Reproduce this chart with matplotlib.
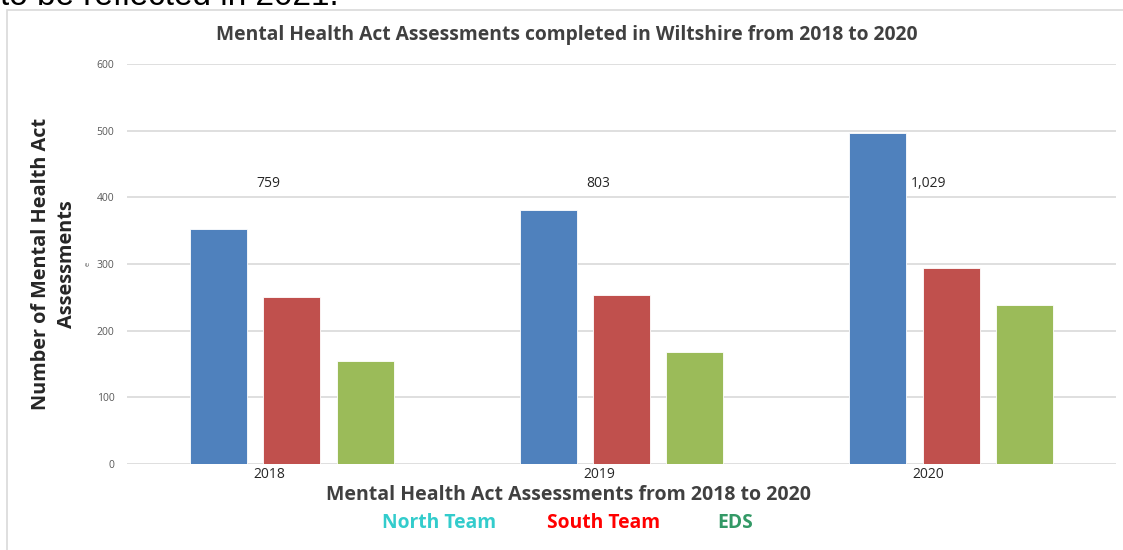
import matplotlib.pyplot as plt
from matplotlib.patches import Rectangle

# Data
years = ["2018", "2019", "2020"]
north_team = [353, 381, 497]
south_team = [251, 254, 294]
eds = [155, 168, 238]
series_names = ["North Team", "South Team", "EDS"]
bar_colors = ["#4F81BD", "#C0504D", "#9BBB59"]
legend_colors = ["#33CCCC", "#FF0000", "#339966"]
y_ticks = [0, 100, 200, 300, 400, 500, 600]

W, H = 1123, 550
fig = plt.figure(figsize=(W / 100, H / 100), dpi=100)
plt.rcParams['font.family'] = ['Open Sans', 'DejaVu Sans']

# frame of the pasted chart
fig.patches.append(Rectangle((7 / W, -0.1), 1.2, 1 - 10 / H + 0.1, transform=fig.transFigure,
                             fill=False, edgecolor="#D9D9D9", lw=1.2))
# cut-off text from the page above
fig.text(0, 1 - 5 / H, "to be reflected in 2021.", fontsize=24, color="black",
         family="Liberation Sans", va="baseline", ha="left")

ax = fig.add_axes([127 / W, 1 - 464 / H, (1116 - 127) / W, 400 / H])
width = 0.173
offset = 0.222
x = list(range(len(years)))
for i, (vals, c) in enumerate(zip([north_team, south_team, eds], bar_colors)):
    ax.bar([xi + (i - 1) * offset for xi in x], vals, width=width, color=c,
           edgecolor="white", linewidth=0.6, zorder=3)

ax.set_xlim(-0.5, 2.5)
ax.set_ylim(0, 600)
ax.set_yticks(y_ticks)
ax.yaxis.grid(True, color="#D9D9D9", lw=1.2, zorder=0)
ax.set_axisbelow(True)
for s in ax.spines.values():
    s.set_visible(False)
ax.tick_params(axis="y", length=0, labelsize=7.5, labelcolor="#595959", pad=9)
ax.tick_params(axis="x", length=0, labelsize=10, labelcolor="#262626", pad=2)
ax.set_xticks([xi - 0.068 for xi in x])
ax.set_xticklabels(years)

# totals
for xi, a, b, c in zip(x, north_team, south_team, eds):
    ax.text(xi - 0.07, 420, f"{a + b + c:,}", ha="center", va="center",
            fontsize=10, color="#262626")

fig.text(567 / W, 1 - 35 / H, "Mental Health Act Assessments completed in Wiltshire from 2018 to 2020",
         ha="center", va="center", fontsize=13.9, fontweight="bold", color="#404040")
fig.text(54 / W, 1 - 264 / H, "Number of Mental Health Act\nAssessments", rotation=90,
         ha="center", va="center", fontsize=14.3, fontweight="bold", color="#262626",
         linespacing=1.35, multialignment="center")
fig.text(88 / W, 1 - 264 / H, "e", rotation=90, ha="center", va="center",
         fontsize=5.5, color="#595959")
fig.text(568 / W, 1 - 495 / H, "Mental Health Act Assessments from 2018 to 2020",
         ha="center", va="center", fontsize=14, fontweight="bold", color="#404040")

for name, c, xc in zip(series_names, legend_colors, [439, 604, 735]):
    fig.text(xc / W, 1 - 523 / H, name, ha="center", va="center", fontsize=13.9,
             fontweight="bold", color=c)

fig.savefig("out.png", dpi=100)
